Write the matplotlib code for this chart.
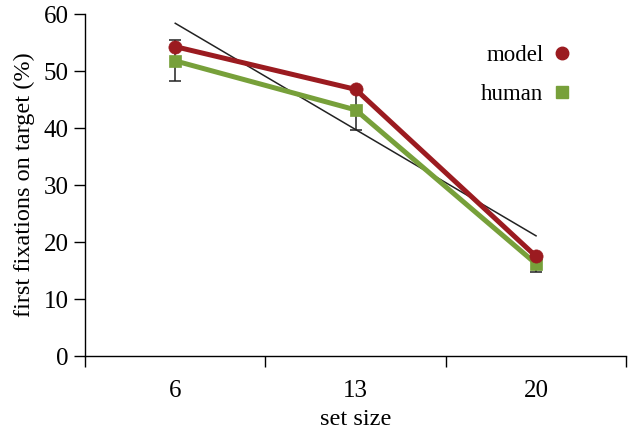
import numpy as np
import matplotlib.pyplot as plt
from matplotlib.lines import Line2D

plt.rcParams['font.family'] = ['Liberation Serif', 'DejaVu Serif']

set_sizes = ['6', '13', '20']
model = [54.3, 46.8, 17.5]
human = [51.8, 43.2, 16.2]
human_err = [3.6, 3.5, 1.5]
trend = [58.4, 21.1]

red = '#9b1b20'
green = '#77a03a'

fig = plt.figure(figsize=(6.3, 4.29), dpi=100)
ax = fig.add_axes([0.135, 0.170, 0.859, 0.797])

x = np.arange(len(set_sizes))

# fitted trend line
ax.plot([x[0], x[-1]], trend, color='#222222', lw=1.1, zorder=1)

# human error bars
ax.errorbar(x, human, yerr=human_err, fmt='none', ecolor='#222222',
            elinewidth=1.1, capsize=4, capthick=1.1, zorder=2)

ax.plot(x, human, color=green, lw=3.6, marker='s', ms=8.5, mew=0.5, zorder=3)
ax.plot(x, model, color=red, lw=3.6, marker='o', ms=9.5, mew=0.5, zorder=4)

ax.set_xlim(-0.5, 2.5)
ax.set_ylim(0, 60)
ax.set_xticks([-0.5, 0.5, 1.5, 2.5])
ax.set_xticklabels([])
ax.set_xticks(x, minor=True)
ax.set_xticklabels(set_sizes, minor=True)
ax.tick_params(axis='x', which='major', length=8, width=1, direction='out')
ax.tick_params(axis='x', which='minor', length=0, pad=17, labelsize=18)
ax.set_yticks(range(0, 61, 10))
ax.tick_params(axis='y', length=8, width=1, labelsize=18, pad=4)

for s in ['top', 'right']:
    ax.spines[s].set_visible(False)
for s in ['left', 'bottom']:
    ax.spines[s].set_linewidth(1.0)

ax.set_xlabel('set size', fontsize=17.5, labelpad=5)
ax.set_ylabel('first fixations on target (%)', fontsize=17.5, labelpad=6)

handles = [Line2D([], [], ls='none', marker='o', color=red, ms=9),
           Line2D([], [], ls='none', marker='s', color=green, ms=8)]
ax.legend(handles, ['model', 'human'], markerfirst=False, frameon=False,
          fontsize=16.5, loc='upper right', bbox_to_anchor=(0.94, 0.97),
          handletextpad=0.3, labelspacing=0.8, handlelength=1.0)

plt.savefig('out.png', dpi=100)
